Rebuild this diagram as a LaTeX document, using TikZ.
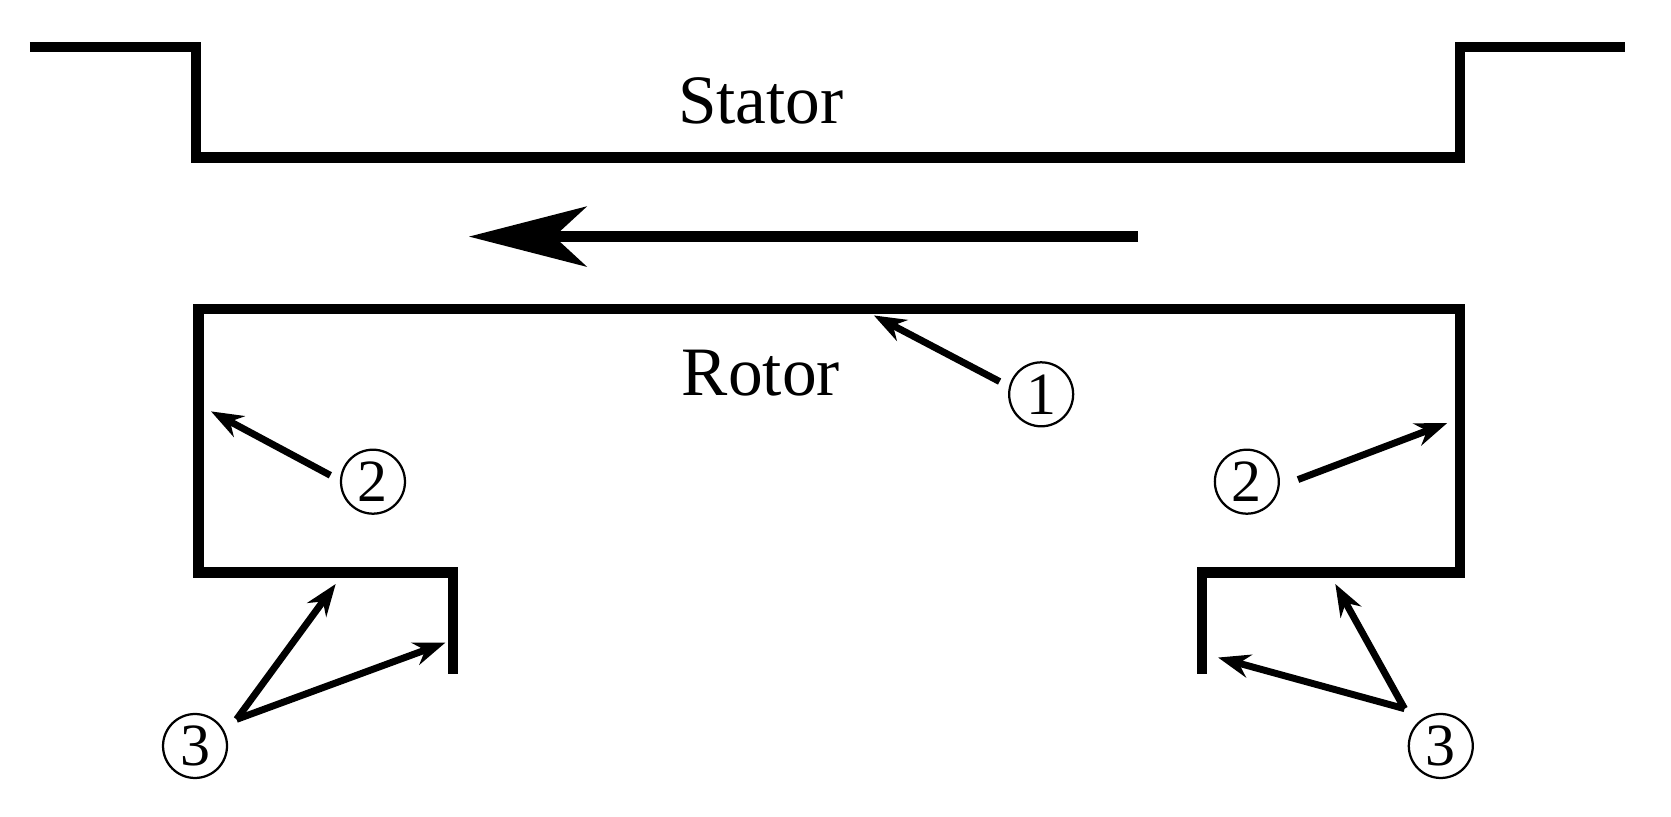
\documentclass[tikz,border=0pt]{standalone}
\usepackage{fontspec}
\setmainfont{Liberation Serif}
\usetikzlibrary{arrows.meta}
\begin{document}
\begin{tikzpicture}[x=0.01cm,y=-0.01cm,
  wall/.style={line width=0.1cm,line join=miter},
  lbl/.style={font=\fontsize{18.5}{19}\selectfont},
  num/.style={circle,draw,line width=0.6pt,inner sep=0pt,minimum size=0.6cm,font=\fontsize{16}{16}\selectfont},
  ptr/.style={line width=0.065cm,-{Stealth[length=0.3cm,width=0.22cm]}}]
\useasboundingbox (0,0) rectangle (1568,766);
\draw[wall] (28,44) -- (184,44) -- (184,148) -- (1370,148) -- (1370,44) -- (1525,44);
\node[lbl] (stator) at (714,95) {Stator};
\coordinate (fs) at (1068,222);
\coordinate (fe) at (440,222);
\draw[line width=0.11cm,-{Stealth[length=1.1cm,width=0.56cm,inset=0.3cm]}] (fs) -- (fe);
\draw[wall] (425,632) -- (425,537) -- (186,537) -- (186,290) -- (1370,290) -- (1370,537) -- (1128,537) -- (1128,632);
\node[lbl] (rotor) at (714,350) {Rotor};
\node[num] (n1) at (977,370) {1};
\node[num] (n2l) at (350,452) {2};
\node[num] (n2r) at (1170,452) {2};
\node[num] (n3l) at (183,700) {3};
\node[num] (n3r) at (1352,700) {3};
\coordinate (t1) at (820,296);
\coordinate (t2l) at (198,386);
\coordinate (t2r) at (1358,397);
\coordinate (t3la) at (315,548);
\coordinate (t3lb) at (418,603);
\coordinate (t3ra) at (1253,548);
\coordinate (t3rb) at (1143,617);
\coordinate (s3l) at (222,675);
\coordinate (s3r) at (1318,665);
\draw[ptr] (938,358) -- (t1);
\draw[ptr] (310,446) -- (t2l);
\draw[ptr] (1218,450) -- (t2r);
\draw[ptr] (s3l) -- (t3la);
\draw[ptr] (s3l) -- (t3lb);
\draw[ptr] (s3r) -- (t3ra);
\draw[ptr] (s3r) -- (t3rb);
\end{tikzpicture}
\end{document}
